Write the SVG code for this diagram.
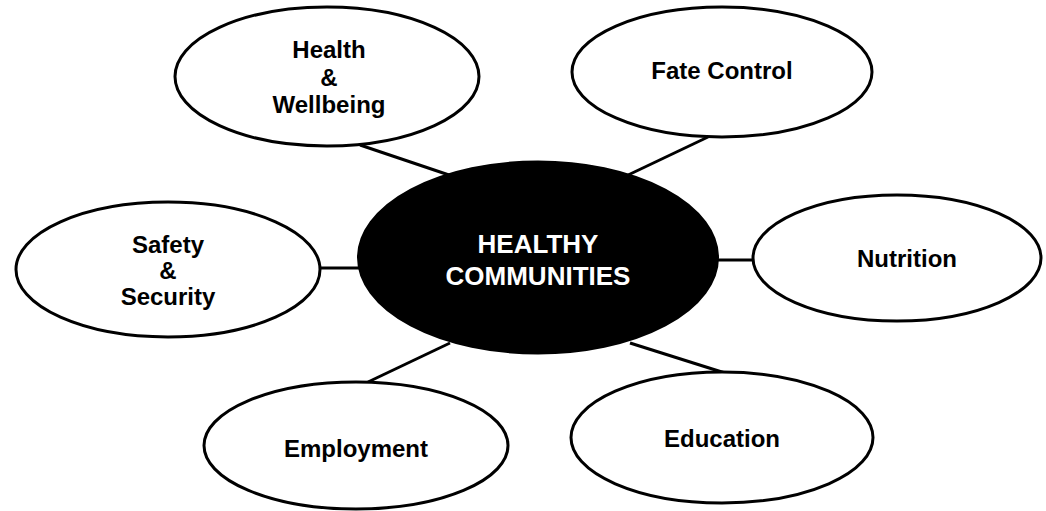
<svg xmlns="http://www.w3.org/2000/svg" width="1046" height="511" viewBox="0 0 1046 511">
<defs>
<style>
.node{fill:#fff;stroke:#000;stroke-width:3}
.hub{fill:#000;stroke:#000;stroke-width:2}
.con{stroke:#000;stroke-width:3;fill:none}
.t{font-family:"Liberation Sans",Arial,sans-serif;font-weight:bold;font-size:24px;fill:#000;text-anchor:middle}
.th{font-family:"Liberation Sans",Arial,sans-serif;font-weight:bold;font-size:26px;fill:#fff;text-anchor:middle}
</style>
<clipPath id="secClip"><rect x="0" y="0" width="1046" height="310"/></clipPath>
</defs>
<rect width="1046" height="511" fill="#fff"/>
<g id="connectors">
<line class="con" x1="360" y1="145" x2="452" y2="176"/>
<line class="con" x1="708" y1="137" x2="626" y2="176"/>
<line class="con" x1="319" y1="268" x2="362" y2="268"/>
<line class="con" x1="714" y1="260" x2="754" y2="260"/>
<line class="con" x1="368" y1="382" x2="450" y2="343"/>
<line class="con" x1="630" y1="343" x2="725" y2="373"/>
</g>
<g id="hub">
<ellipse class="hub" cx="538" cy="257.5" rx="180" ry="96"/>
<text class="th" x="538" y="253">HEALTHY</text>
<text class="th" x="538" y="285">COMMUNITIES</text>
</g>
<g id="health-wellbeing">
<ellipse class="node" cx="327" cy="76.5" rx="152" ry="69.5"/>
<text class="t" x="329" y="58">Health</text>
<text class="t" x="329" y="86">&amp;</text>
<text class="t" x="329" y="113">Wellbeing</text>
</g>
<g id="fate-control">
<ellipse class="node" cx="722" cy="72" rx="150" ry="65"/>
<text class="t" x="722" y="79">Fate Control</text>
</g>
<g id="safety-security">
<ellipse class="node" cx="168" cy="269.5" rx="152" ry="67.5"/>
<text class="t" x="168" y="253">Safety</text>
<text class="t" x="168" y="279">&amp;</text>
<text class="t" x="168" y="305" clip-path="url(#secClip)">Security</text>
</g>
<g id="nutrition">
<ellipse class="node" cx="897" cy="258" rx="144" ry="63"/>
<text class="t" x="907" y="267">Nutrition</text>
</g>
<g id="employment">
<ellipse class="node" cx="356" cy="445.5" rx="152" ry="63.5"/>
<text class="t" x="356" y="457">Employment</text>
</g>
<g id="education">
<ellipse class="node" cx="722" cy="437.5" rx="151" ry="65.5"/>
<text class="t" x="722" y="447">Education</text>
</g>
</svg>
